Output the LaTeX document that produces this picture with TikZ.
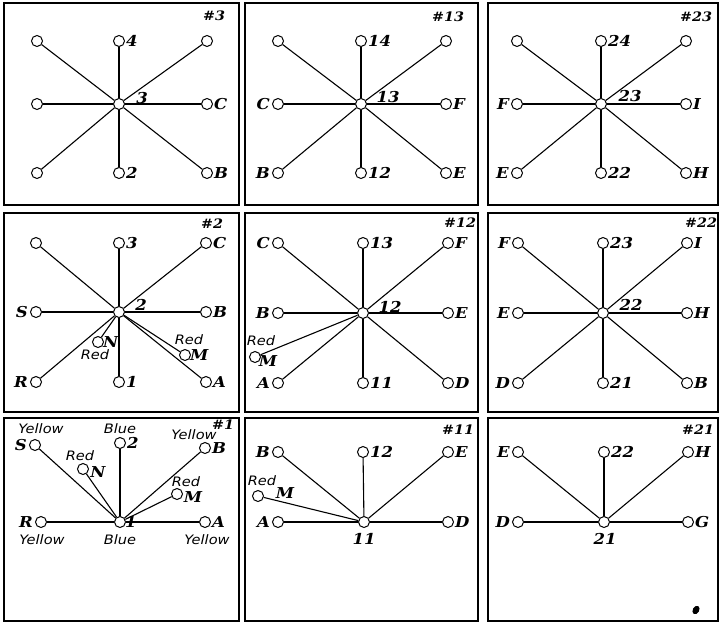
\documentclass[tikz,border=0pt]{standalone}
\usepackage{fontspec}
\newfontfamily\labfont[FakeStretch=1.1]{DejaVu Serif}
\newfontfamily\colfont[FakeStretch=1.12]{DejaVu Sans}
\begin{document}
\begin{tikzpicture}[x=1pt,y=-1pt,
  vtx/.style={circle,draw,line width=1pt,fill=white,minimum size=11pt,inner sep=0pt},
  lab/.style={font=\labfont\bfseries\itshape\fontsize{15}{15}\selectfont,inner sep=1pt},
  rlab/.style={lab,anchor=west},
  llab/.style={lab,anchor=east,inner sep=2pt},
  hlab/.style={font=\labfont\bfseries\itshape\fontsize{13}{13}\selectfont,inner sep=0pt},
  clab/.style={font=\colfont\itshape\fontsize{13}{13}\selectfont,inner sep=0pt},
  spoke/.style={line width=1.1pt},
  panel/.style={line width=1.6pt}]
\useasboundingbox (0,0) rectangle (719,623);

% frames
\draw[panel] (4,3) rectangle (239,205);
\draw[panel] (245,3) rectangle (478,205);
\draw[panel] (488,3) rectangle (718,205);
\draw[panel] (4,213) rectangle (239,412);
\draw[panel] (245,213) rectangle (478,412);
\draw[panel] (488,213) rectangle (718,412);
\draw[panel] (4,418) rectangle (239,621);
\draw[panel] (245,418) rectangle (478,621);
\draw[panel] (488,418) rectangle (718,621);

% ---------- panel #3 ----------
\node[vtx] (a0) at (119,104) {};
\node[vtx] (a1) at (37,41) {};
\node[vtx] (a2) at (119,41) {};
\node[vtx] (a3) at (207,41) {};
\node[vtx] (a4) at (37,104) {};
\node[vtx] (a5) at (207,104) {};
\node[vtx] (a6) at (37,173) {};
\node[vtx] (a7) at (119,173) {};
\node[vtx] (a8) at (207,173) {};
\foreach \i in {1,...,8} \draw[spoke] (a0) -- (a\i);
\node[rlab] (a2t) at (a2.east) {4};
\node[rlab] (a5t) at (a5.east) {C};
\node[rlab] (a7t) at (a7.east) {2};
\node[rlab] (a8t) at (a8.east) {B};
\node[lab] (a0t) at (142,98) {3};
\node[hlab] (ah) at (214,16) {\#3};

% ---------- panel #13 ----------
\node[vtx] (b0) at (361,104) {};
\node[vtx] (b1) at (278,41) {};
\node[vtx] (b2) at (361,41) {};
\node[vtx] (b3) at (446,41) {};
\node[vtx] (b4) at (278,104) {};
\node[vtx] (b5) at (446,104) {};
\node[vtx] (b6) at (278,173) {};
\node[vtx] (b7) at (361,173) {};
\node[vtx] (b8) at (446,173) {};
\foreach \i in {1,...,8} \draw[spoke] (b0) -- (b\i);
\node[rlab] (b2t) at (b2.east) {14};
\node[llab] (b4t) at (b4.west) {C};
\node[rlab] (b5t) at (b5.east) {F};
\node[llab] (b6t) at (b6.west) {B};
\node[rlab] (b7t) at (b7.east) {12};
\node[rlab] (b8t) at (b8.east) {E};
\node[lab] (b0t) at (388,97) {13};
\node[hlab] (bh) at (448,17) {\#13};

% ---------- panel #23 ----------
\node[vtx] (c0) at (601,104) {};
\node[vtx] (c1) at (517,41) {};
\node[vtx] (c2) at (601,41) {};
\node[vtx] (c3) at (686,41) {};
\node[vtx] (c4) at (517,104) {};
\node[vtx] (c5) at (686,104) {};
\node[vtx] (c6) at (517,173) {};
\node[vtx] (c7) at (601,173) {};
\node[vtx] (c8) at (686,173) {};
\foreach \i in {1,...,8} \draw[spoke] (c0) -- (c\i);
\node[rlab] (c2t) at (c2.east) {24};
\node[llab] (c4t) at (c4.west) {F};
\node[rlab] (c5t) at (c5.east) {I};
\node[llab] (c6t) at (c6.west) {E};
\node[rlab] (c7t) at (c7.east) {22};
\node[rlab] (c8t) at (c8.east) {H};
\node[lab] (c0t) at (630,96) {23};
\node[hlab] (ch) at (696,17) {\#23};

% ---------- panel #2 ----------
\node[vtx] (d0) at (119,312) {};
\node[vtx] (d1) at (36,243) {};
\node[vtx] (d2) at (119,243) {};
\node[vtx] (d3) at (206,243) {};
\node[vtx] (d4) at (36,312) {};
\node[vtx] (d5) at (206,312) {};
\node[vtx] (d6) at (36,382) {};
\node[vtx] (d7) at (119,382) {};
\node[vtx] (d8) at (206,382) {};
\node[vtx] (dn) at (98,342) {};
\node[vtx] (dm) at (185,355) {};
\foreach \i in {1,...,8,n,m} \draw[spoke] (d0) -- (d\i);
\node[rlab] (d2t) at (d2.east) {3};
\node[rlab] (d3t) at (d3.east) {C};
\node[llab] (d4t) at (d4.west) {S};
\node[rlab] (d5t) at (d5.east) {B};
\node[llab] (d6t) at (d6.west) {R};
\node[rlab] (d7t) at (d7.east) {1};
\node[rlab] (d8t) at (d8.east) {A};
\node[rlab,xshift=-2pt] (dnt) at (dn.east) {N};
\node[rlab,xshift=-2pt] (dmt) at (dm.east) {M};
\node[clab] (dnc) at (95,355) {Red};
\node[clab] (dmc) at (189,340) {Red};
\node[lab] (d0t) at (141,305) {2};
\node[hlab] (dh) at (212,224) {\#2};

% ---------- panel #12 ----------
\node[vtx] (e0) at (363,313) {};
\node[vtx] (e1) at (278,243) {};
\node[vtx] (e2) at (363,243) {};
\node[vtx] (e3) at (448,243) {};
\node[vtx] (e4) at (278,313) {};
\node[vtx] (e5) at (448,313) {};
\node[vtx] (e6) at (278,383) {};
\node[vtx] (e7) at (363,383) {};
\node[vtx] (e8) at (448,383) {};
\node[vtx] (em) at (255,357) {};
\foreach \i in {1,...,8,m} \draw[spoke] (e0) -- (e\i);
\node[llab] (e1t) at (e1.west) {C};
\node[rlab] (e2t) at (e2.east) {13};
\node[rlab] (e3t) at (e3.east) {F};
\node[llab] (e4t) at (e4.west) {B};
\node[rlab] (e5t) at (e5.east) {E};
\node[llab] (e6t) at (e6.west) {A};
\node[rlab] (e7t) at (e7.east) {11};
\node[rlab] (e8t) at (e8.east) {D};
\node[lab] (emt) at (268,361) {M};
\node[clab] (emc) at (261,341) {Red};
\node[lab] (e0t) at (390,307) {12};
\node[hlab] (eh) at (460,223) {\#12};

% ---------- panel #22 ----------
\node[vtx] (f0) at (603,313) {};
\node[vtx] (f1) at (518,243) {};
\node[vtx] (f2) at (603,243) {};
\node[vtx] (f3) at (687,243) {};
\node[vtx] (f4) at (518,313) {};
\node[vtx] (f5) at (687,313) {};
\node[vtx] (f6) at (518,383) {};
\node[vtx] (f7) at (603,383) {};
\node[vtx] (f8) at (687,383) {};
\foreach \i in {1,...,8} \draw[spoke] (f0) -- (f\i);
\node[llab] (f1t) at (f1.west) {F};
\node[rlab] (f2t) at (f2.east) {23};
\node[rlab] (f3t) at (f3.east) {I};
\node[llab] (f4t) at (f4.west) {E};
\node[rlab] (f5t) at (f5.east) {H};
\node[llab] (f6t) at (f6.west) {D};
\node[rlab] (f7t) at (f7.east) {21};
\node[rlab] (f8t) at (f8.east) {B};
\node[lab] (f0t) at (631,305) {22};
\node[hlab] (fh) at (701,223) {\#22};

% ---------- panel #1 ----------
\node[vtx] (g0) at (120,522) {};
\node[vtx] (gS) at (35,445) {};
\node[vtx] (g2) at (120,443) {};
\node[vtx] (gB) at (205,448) {};
\node[vtx] (gN) at (83,469) {};
\node[vtx] (gM) at (177,494) {};
\node[vtx] (gR) at (41,522) {};
\node[vtx] (gA) at (205,522) {};
\foreach \i in {S,2,B,N,M,R,A} \draw[spoke] (g0) -- (g\i);
\node[llab] (gSt) at (gS.west) {S};
\node[clab] (gSc) at (41,429) {Yellow};
\node[rlab] (g2t) at (g2.east) {2};
\node[clab] (g2c) at (120,429) {Blue};
\node[rlab] (gBt) at (gB.east) {B};
\node[clab] (gBc) at (194,435) {Yellow};
\node[lab] (gNt) at (98,472) {N};
\node[clab] (gNc) at (80,456) {Red};
\node[lab] (gMt) at (193,497) {M};
\node[clab] (gMc) at (186,482) {Red};
\node[llab] (gRt) at (gR.west) {R};
\node[clab] (gRc) at (42,540) {Yellow};
\node[rlab,xshift=-2pt] (g0t) at (g0.east) {1};
\node[clab] (g0c) at (120,540) {Blue};
\node[rlab] (gAt) at (gA.east) {A};
\node[clab] (gAc) at (207,540) {Yellow};
\node[hlab] (gh) at (223,425) {\#1};

% ---------- panel #11 ----------
\node[vtx] (h0) at (364,522) {};
\node[vtx] (hB) at (278,452) {};
\node[vtx] (h12) at (363,452) {};
\node[vtx] (hE) at (448,452) {};
\node[vtx] (hA) at (278,522) {};
\node[vtx] (hD) at (448,522) {};
\node[vtx] (hM) at (258,496) {};
\foreach \i in {B,12,E,A,D,M} \draw[spoke] (h0) -- (h\i);
\node[llab] (hBt) at (hB.west) {B};
\node[rlab] (h12t) at (h12.east) {12};
\node[rlab] (hEt) at (hE.east) {E};
\node[llab] (hAt) at (hA.west) {A};
\node[rlab] (hDt) at (hD.east) {D};
\node[lab] (hMt) at (285,493) {M};
\node[clab] (hMc) at (262,481) {Red};
\node[lab] (h0t) at (364,539) {11};
\node[hlab] (hh) at (458,430) {\#11};

% ---------- panel #21 ----------
\node[vtx] (k0) at (604,522) {};
\node[vtx] (kE) at (518,452) {};
\node[vtx] (k22) at (604,452) {};
\node[vtx] (kH) at (688,452) {};
\node[vtx] (kD) at (518,522) {};
\node[vtx] (kG) at (688,522) {};
\foreach \i in {E,22,H,D,G} \draw[spoke] (k0) -- (k\i);
\node[llab] (kEt) at (kE.west) {E};
\node[rlab] (k22t) at (k22.east) {22};
\node[rlab] (kHt) at (kH.east) {H};
\node[llab] (kDt) at (kD.west) {D};
\node[rlab] (kGt) at (kG.east) {G};
\node[lab] (k0t) at (605,539) {21};
\node[hlab] (kh) at (698,430) {\#21};
\fill[rotate around={-30:(696,610)}] (696,610) ellipse [x radius=3.2, y radius=4.5];
\end{tikzpicture}
\end{document}
